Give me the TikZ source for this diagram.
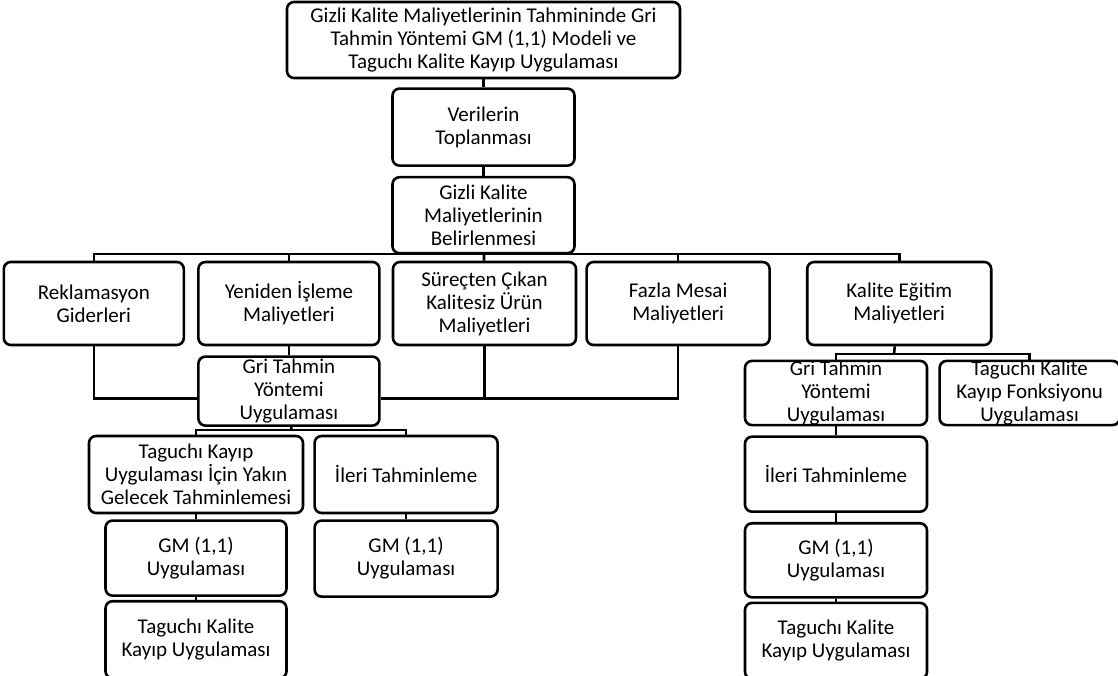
\documentclass[tikz,border=0pt]{standalone}
\usepackage{fontspec}
\setmainfont{Carlito}
\usetikzlibrary{positioning}

\tikzset{
  box/.style={draw, line width=2.6pt, rounded corners=7pt, align=center, inner xsep=1pt, inner ysep=0pt,
    minimum width=182pt, font=\fontsize{21}{23}\selectfont},
  link/.style={line width=2.6pt},
}

\begin{document}
\begin{tikzpicture}[x=1pt, y=-1pt]
	\useasboundingbox (0,0) rectangle (1118,676);
	
	\node[box, minimum width=393pt, minimum height=76pt] (t) at (483.5,40) {Gizli Kalite Maliyetlerinin Tahmininde Gri\\Tahmin Yöntemi GM (1,1) Modeli ve\\Taguchı Kalite Kayıp Uygulaması};
	\node[box, minimum height=77pt, below=8pt of t] (v) {Verilerin\\Toplanması};
	\node[box, minimum height=76pt, below=9pt of v] (g) {Gizli Kalite\\Maliyetlerinin\\Belirlenmesi};
	
	\node[box, minimum width=183pt, minimum height=83pt] (c3) at (484.5,303.5) {Süreçten Çıkan\\Kalitesiz Ürün\\Maliyetleri};
	\node[box, minimum width=181pt, minimum height=83pt, left=11pt of c3] (c2) {Yeniden İşleme\\Maliyetleri};
	\node[box, minimum width=180pt, minimum height=83pt, left=12pt of c2] (c1) {Reklamasyon\\Giderleri};
	\node[box, minimum width=183pt, minimum height=83pt, right=8pt of c3] (c4) {Fazla Mesai\\Maliyetleri};
	\node[box, minimum width=184pt, minimum height=83pt, right=35pt of c4] (c5) {Kalite Eğitim\\Maliyetleri};
	
	\node[box, minimum width=181pt, minimum height=69pt, below=9pt of c2] (gl) {Gri Tahmin\\Yöntemi\\Uygulaması};
	\node[box, minimum width=214pt, minimum height=77pt] (tl) at (196,474.5) {Taguchı Kayıp\\Uygulaması İçin Yakın\\Gelecek Tahminlemesi};
	\node[box, minimum width=183pt, minimum height=77pt, right=9pt of tl] (il) {İleri Tahminleme};
	\node[box, minimum width=181pt, minimum height=75pt, below=5pt of tl] (ml1) {GM (1,1)\\Uygulaması};
	\node[box, minimum width=181pt, minimum height=77pt, below=3pt of ml1] (kl) {Taguchı Kalite\\Kayıp Uygulaması};
	\node[box, minimum width=183pt, minimum height=76pt, below=5pt of il] (ml2) {GM (1,1)\\Uygulaması};
	
	\node[box, minimum height=64pt] (gr) at (836,393) {Gri Tahmin\\Yöntemi\\Uygulaması};
	\node[box, minimum width=180pt, minimum height=64pt, right=10pt of gr] (fr) {Taguchı Kalite\\Kayıp Fonksiyonu\\Uygulaması};
	\node[box, minimum height=75pt, below=9pt of gr] (ir) {İleri Tahminleme};
	\node[box, minimum height=74pt, below=9pt of ir] (mr) {GM (1,1)\\Uygulaması};
	\node[box, minimum height=76pt, below=3pt of mr] (kr) {Taguchı Kalite\\Kayıp Uygulaması};
	
	\coordinate (bus) at (484,254);
	\coordinate (jl) at (291.5,430);
	\coordinate (jr) at (894,354);
	
	\draw[link] (t) -- (v);
	\draw[link] (v) -- (g);
	\draw[link] (g) -- (c3);
	\draw[link] (c1.north) |- (bus) -| (c5.north);
	\draw[link] (c2.north) -- (c2.north |- bus);
	\draw[link] (c4.north) -- (c4.north |- bus);
	
	\draw[link] (c2) -- (gl);
	\draw[link] (c1.south) |- ([yshift=-7.5pt]gl.west);
	\draw[link] (c3.south) |- ([yshift=-7.5pt]gl.east);
	\draw[link] (c4.south) |- ([yshift=-7.5pt]gl.east);
	\draw[link] (gl) -- (jl);
	\draw[link] (tl.north) |- (jl) -| (il.north);
	\draw[link] (tl) -- (ml1);
	\draw[link] (ml1) -- (kl);
	\draw[link] (il) -- (ml2);
	
	\draw[link] (c5) -- (jr);
	\draw[link] (gr.north) |- (jr) -| (fr.north);
	\draw[link] (gr) -- (ir);
	\draw[link] (ir) -- (mr);
	\draw[link] (mr) -- (kr);
\end{tikzpicture}
\end{document}
